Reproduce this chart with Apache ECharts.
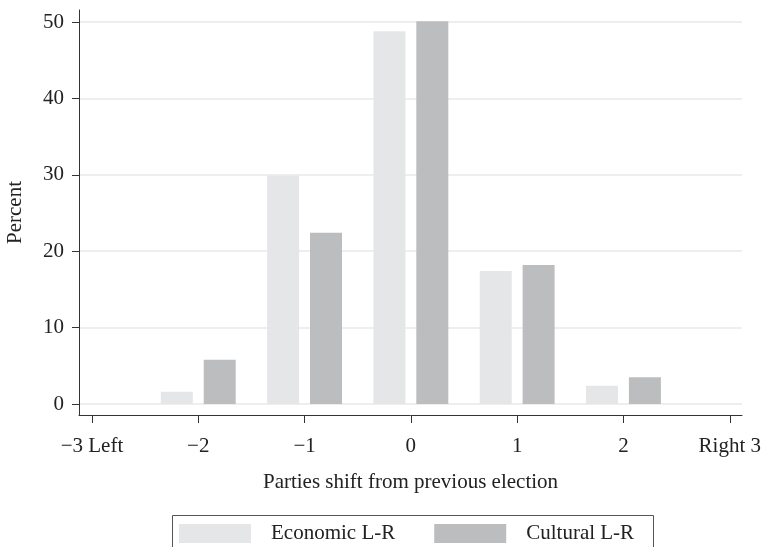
<!DOCTYPE html>
<html>
<head>
<meta charset="utf-8">
<script src="https://cdn.jsdelivr.net/npm/echarts@6/dist/echarts.min.js"></script>
<style>
html,body{margin:0;padding:0;background:#fff;}
#chart{width:765px;height:547px;}
</style>
</head>
<body>
<div id="chart"></div>
<script>
const shifts = [-2, -1, 0, 1, 2];
const economic = [1.6, 29.9, 48.8, 17.4, 2.4];
const cultural = [5.8, 22.4, 50.1, 18.2, 3.5];
const xTicks = [-3, -2, -1, 0, 1, 2, 3];
const xTickLabels = ['\u22123 Left', '\u22122', '\u22121', '0', '1', '2', 'Right 3'];
const yTicks = [0, 10, 20, 30, 40, 50];
const seriesNames = ['Economic L-R', 'Cultural L-R'];

const FONT = '"Liberation Serif", "Times New Roman", serif';
const FS = 21;

const chart = echarts.init(document.getElementById('chart'), null, {renderer: 'canvas'});
chart.setOption({
  animation: false,
  backgroundColor: '#fff',
  textStyle: {fontFamily: FONT},
  grid: {left: 79, right: 23, top: 10, bottom: 132, containLabel: false, outerBoundsMode: 'none'},
  xAxis: {
    type: 'value',
    min: -3.122, max: 3.115,
    name: 'Parties shift from previous election',
    nameLocation: 'middle',
    nameGap: 57,
    nameTextStyle: {fontFamily: FONT, fontSize: 21, color: '#222'},
    axisLine: {show: true, onZero: false, lineStyle: {color: '#333', width: 1}},
    axisTick: {show: true, length: 8, customValues: xTicks, lineStyle: {color: '#333'}},
    axisLabel: {
      customValues: xTicks,
      margin: 21,
      fontFamily: FONT, fontSize: FS, color: '#222',
      formatter: v => xTickLabels[xTicks.indexOf(Math.round(v))]
    },
    splitLine: {show: false}
  },
  yAxis: {
    type: 'value',
    min: -1.44, max: 51.57,
    name: 'Percent',
    nameLocation: 'middle',
    nameGap: 53,
    nameRotate: 90,
    nameTextStyle: {fontFamily: FONT, fontSize: 21, color: '#222'},
    axisLine: {show: true, onZero: false, lineStyle: {color: '#333', width: 1}},
    axisTick: {show: true, length: 7, customValues: yTicks, lineStyle: {color: '#333'}},
    axisLabel: {customValues: yTicks, margin: 15, fontFamily: FONT, fontSize: FS, color: '#222'},
    splitLine: {show: true, lineStyle: {color: '#eeeeee', width: 2}}
  },
  legend: {
    data: seriesNames,
    left: 179, top: 523,
    padding: 0,
    itemWidth: 72, itemHeight: 19,
    itemGap: 39,
    icon: 'rect',
    selectedMode: false,
    textStyle: {fontFamily: FONT, fontSize: FS, color: '#222', padding: [0, 0, 0, 15]}
  },
  graphic: [{
    type: 'rect',
    shape: {x: 172.5, y: 515.5, width: 481, height: 60},
    style: {fill: 'none', stroke: '#555', lineWidth: 1},
    silent: true
  }],
  series: [
    {
      name: seriesNames[0], type: 'bar',
      data: shifts.map((s, i) => [s, economic[i]]),
      barWidth: 32, barGap: '34%',
      itemStyle: {color: '#e5e6e8'}
    },
    {
      name: seriesNames[1], type: 'bar',
      data: shifts.map((s, i) => [s, cultural[i]]),
      barWidth: 32, barGap: '34%',
      itemStyle: {color: '#bcbdbf'}
    }
  ]
});
</script>
</body>
</html>
